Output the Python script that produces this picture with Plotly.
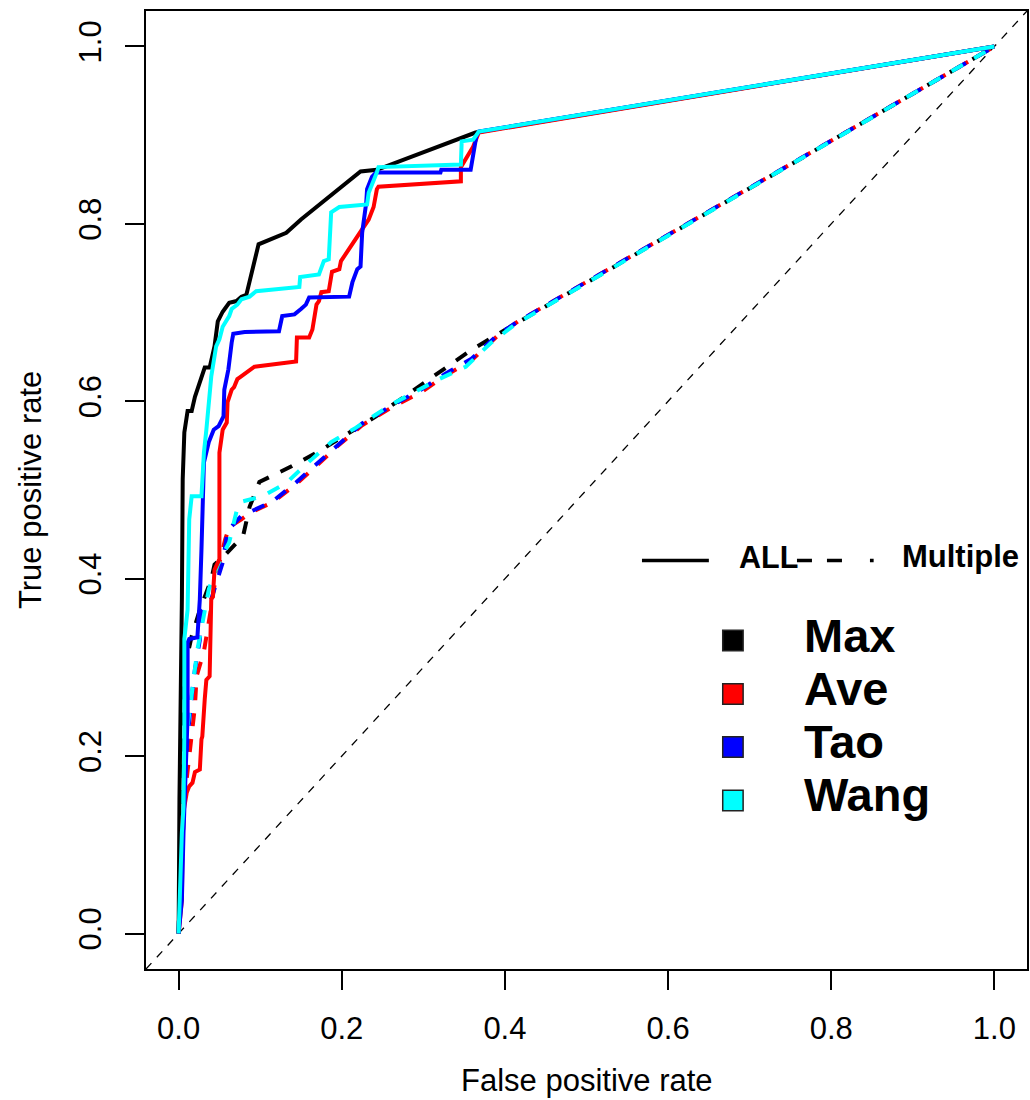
import plotly.graph_objects as go

# ---------------- data ----------------
max_all_x = [0, 0.001, 0.004, 0.005, 0.007, 0.011, 0.016, 0.020, 0.032, 0.038, 0.044, 0.048, 0.054,
             0.062, 0.071, 0.077, 0.083, 0.098, 0.132, 0.150, 0.223, 0.243, 0.364, 1]
max_all_y = [0, 0.151, 0.377, 0.512, 0.565, 0.589, 0.589, 0.605, 0.638, 0.638, 0.662, 0.690, 0.701,
             0.711, 0.713, 0.718, 0.720, 0.777, 0.790, 0.805, 0.859, 0.861, 0.903, 1]

ave_all_x = [0, 0.002, 0.004, 0.005, 0.010, 0.013, 0.017, 0.020, 0.026, 0.028, 0.029, 0.032, 0.034,
             0.038, 0.040, 0.042, 0.044, 0.050, 0.050, 0.054, 0.059, 0.060, 0.065, 0.068, 0.072,
             0.075, 0.090, 0.093, 0.144, 0.145, 0.160, 0.164, 0.169, 0.172, 0.175, 0.184, 0.188,
             0.197, 0.199, 0.223, 0.233, 0.239, 0.243, 0.245, 0.346, 0.346, 0.361, 0.368, 1]
ave_all_y = [0, 0.016, 0.038, 0.132, 0.159, 0.166, 0.170, 0.182, 0.185, 0.219, 0.222, 0.264, 0.286,
             0.290, 0.377, 0.380, 0.410, 0.422, 0.542, 0.568, 0.576, 0.599, 0.613, 0.616, 0.625,
             0.627, 0.638, 0.639, 0.645, 0.672, 0.672, 0.681, 0.709, 0.713, 0.723, 0.724, 0.746,
             0.749, 0.758, 0.790, 0.805, 0.819, 0.839, 0.842, 0.848, 0.864, 0.887, 0.903, 1]

tao_all_x = [0, 0.004, 0.006, 0.007, 0.010, 0.011, 0.011, 0.013, 0.023, 0.026, 0.028, 0.031, 0.037,
             0.043, 0.049, 0.055, 0.056, 0.061, 0.065, 0.067, 0.081, 0.123, 0.127, 0.142, 0.150,
             0.156, 0.160, 0.209, 0.213, 0.219, 0.223, 0.225, 0.230, 0.231, 0.237, 0.242, 0.321,
             0.322, 0.358, 0.365, 0.368, 1]
tao_all_y = [0, 0.038, 0.114, 0.136, 0.219, 0.244, 0.328, 0.332, 0.334, 0.377, 0.433, 0.531, 0.554,
             0.568, 0.572, 0.583, 0.613, 0.636, 0.666, 0.676, 0.678, 0.679, 0.696, 0.698, 0.704,
             0.709, 0.717, 0.718, 0.734, 0.749, 0.752, 0.790, 0.824, 0.839, 0.853, 0.858, 0.858,
             0.861, 0.861, 0.899, 0.904, 1]

wang_all_x = [0, 0.001, 0.004, 0.006, 0.007, 0.007, 0.011, 0.013, 0.016, 0.028, 0.031, 0.034, 0.040,
              0.046, 0.050, 0.054, 0.062, 0.065, 0.072, 0.077, 0.087, 0.095, 0.148, 0.149, 0.172,
              0.178, 0.184, 0.187, 0.197, 0.231, 0.233, 0.243, 0.245, 0.346, 0.347, 0.361, 0.368, 1]
wang_all_y = [0, 0.038, 0.114, 0.143, 0.227, 0.332, 0.365, 0.467, 0.493, 0.493, 0.542, 0.568, 0.628,
              0.662, 0.670, 0.684, 0.696, 0.704, 0.709, 0.715, 0.718, 0.724, 0.729, 0.740, 0.743,
              0.758, 0.760, 0.813, 0.819, 0.822, 0.835, 0.858, 0.864, 0.867, 0.893, 0.895, 0.904, 1]

max_mul_x = [0, 0.004, 0.007, 0.016, 0.026, 0.040, 0.044, 0.056, 0.071, 0.079, 0.087, 0.099, 0.139,
             0.169, 0.242, 0.303, 0.359, 0.401, 1]
max_mul_y = [0, 0.151, 0.298, 0.335, 0.365, 0.399, 0.416, 0.426, 0.441, 0.448, 0.481, 0.509, 0.527,
             0.542, 0.583, 0.622, 0.658, 0.681, 1]

ave_mul_x = [0, 0.004, 0.007, 0.013, 0.020, 0.022, 0.031, 0.040, 0.045, 0.057, 0.062, 0.077, 0.089,
             0.115, 0.142, 0.170, 0.193, 0.225, 0.261, 0.297, 0.327, 0.359, 0.390, 0.416, 1]
ave_mul_y = [0, 0.072, 0.151, 0.196, 0.256, 0.290, 0.318, 0.368, 0.399, 0.444, 0.458, 0.467, 0.475,
             0.486, 0.505, 0.528, 0.548, 0.573, 0.593, 0.610, 0.629, 0.646, 0.673, 0.690, 1]

tao_mul_x = [0, 0.002, 0.006, 0.011, 0.017, 0.020, 0.026, 0.028, 0.040, 0.054, 0.060, 0.078, 0.089,
             0.115, 0.142, 0.170, 0.193, 0.225, 0.261, 0.297, 0.327, 0.359, 0.390, 0.416, 1]
tao_mul_y = [0, 0.072, 0.151, 0.222, 0.275, 0.298, 0.331, 0.363, 0.377, 0.418, 0.454, 0.472, 0.476,
             0.487, 0.507, 0.530, 0.550, 0.575, 0.595, 0.613, 0.631, 0.648, 0.674, 0.690, 1]

wang_mul_x = [0, 0.002, 0.006, 0.009, 0.023, 0.037, 0.048, 0.062, 0.072, 0.078, 0.103, 0.132, 0.160,
              0.187, 0.217, 0.260, 0.319, 0.352, 0.383, 0.413, 1]
wang_mul_y = [0, 0.095, 0.185, 0.219, 0.320, 0.388, 0.416, 0.441, 0.480, 0.487, 0.493, 0.508, 0.532,
              0.554, 0.570, 0.596, 0.625, 0.639, 0.666, 0.687, 1]

methods = ["Max", "Ave", "Tao", "Wang"]
colors = ["#000000", "#FF0000", "#0000FF", "#00FFFF"]
all_curves = [(max_all_x, max_all_y), (ave_all_x, ave_all_y), (tao_all_x, tao_all_y), (wang_all_x, wang_all_y)]
mul_curves = [(max_mul_x, max_mul_y), (ave_mul_x, ave_mul_y), (tao_mul_x, tao_mul_y), (wang_mul_x, wang_mul_y)]

tick_vals = [0, 0.2, 0.4, 0.6, 0.8, 1.0]
tick_text = ["0.0", "0.2", "0.4", "0.6", "0.8", "1.0"]

FONT = "Liberation Sans, Arial, sans-serif"

fig = go.Figure()

for (x, y), c in zip(mul_curves, colors):
    fig.add_trace(go.Scatter(x=x, y=y, mode="lines",
                             line=dict(color=c, width=4, dash="13px,13px"),
                             showlegend=False, hoverinfo="skip"))
for (x, y), c in zip(all_curves, colors):
    fig.add_trace(go.Scatter(x=x, y=y, mode="lines",
                             line=dict(color=c, width=4),
                             showlegend=False, hoverinfo="skip"))

# diagonal reference line (abline 0,1)
fig.add_shape(type="line", x0=-0.04, y0=-0.04, x1=1.04, y1=1.04, xref="x", yref="y",
              line=dict(color="black", width=1.3, dash="8px,8px"), layer="below")

# ----- custom legend -----
fig.add_shape(type="line", x0=0.568, x1=0.650, y0=0.4205, y1=0.4205, xref="x", yref="y",
              line=dict(color="black", width=3.5))
fig.add_annotation(x=0.685, y=0.4245, xref="x", yref="y", text="<b>ALL</b>", showarrow=False,
                   xanchor="left", yanchor="middle", font=dict(size=30.5, color="black", family=FONT))
fig.add_shape(type="line", x0=0.758, x1=0.852, y0=0.4205, y1=0.4205, xref="x", yref="y",
              line=dict(color="black", width=3.5, dash="15px,15px,15px,28px"))
fig.add_annotation(x=0.884, y=0.4245, xref="x", yref="y", text="<b>Multiple</b>", showarrow=False,
                   xanchor="left", yanchor="middle", font=dict(size=31, color="black", family=FONT))

sq_y = [0.3303, 0.2700, 0.2103, 0.1499]
txt_y = [0.336, 0.2765, 0.2165, 0.1567]
for name, c, sy, ty in zip(methods, colors, sq_y, txt_y):
    fig.add_shape(type="rect", x0=0.6795 - 0.0125, x1=0.6795 + 0.0125, y0=sy - 0.0115, y1=sy + 0.0115,
                  xref="x", yref="y", fillcolor=c, line=dict(color="#222222", width=1.5))
    fig.add_annotation(x=0.7643, y=ty, xref="x", yref="y", text="<b>%s</b>" % name, showarrow=False,
                       xanchor="left", yanchor="middle", font=dict(size=47, color="black", family=FONT))

# axis titles
fig.add_annotation(x=0.5, y=0, xref="paper", yref="paper", yshift=-111, text="False positive rate",
                   showarrow=False, xanchor="center", yanchor="middle",
                   font=dict(size=31, color="black", family=FONT))
fig.add_annotation(x=0, y=0.5, xref="paper", yref="paper", xshift=-116, text="True positive rate",
                   showarrow=False, xanchor="center", yanchor="middle", textangle=-90,
                   font=dict(size=31, color="black", family=FONT))

axis_common = dict(range=[-0.04, 1.04], showgrid=False, zeroline=False, showline=True, mirror=True,
                   linecolor="black", linewidth=1.8, ticks="outside", ticklen=19, tickwidth=1.8,
                   tickcolor="black", tickvals=tick_vals, ticktext=tick_text,
                   tickfont=dict(size=31, color="black", family=FONT))

fig.update_layout(
    width=1030, height=1100,
    margin=dict(l=146, r=1, t=11, b=131),
    paper_bgcolor="white", plot_bgcolor="white",
    font=dict(family=FONT, color="black"),
    showlegend=False,
    xaxis=dict(**axis_common, ticklabelstandoff=12),
    yaxis=dict(**axis_common, tickangle=-90, ticklabelstandoff=12),
)

fig.write_html("out.html", config={"displayModeBar": False},
               post_script="document.body.style.margin='0';document.body.style.overflow='hidden';")
